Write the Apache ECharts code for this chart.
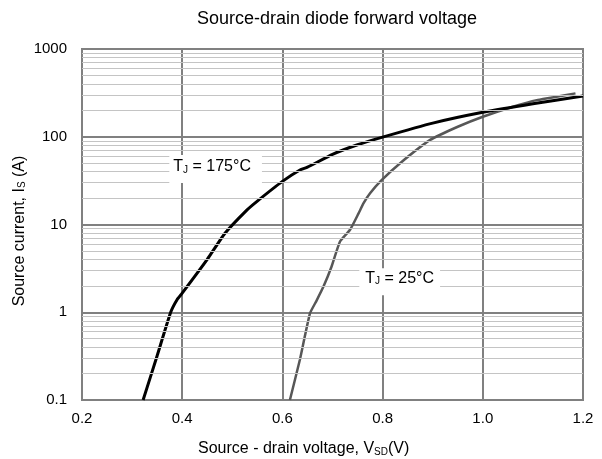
<!DOCTYPE html>
<html>
<head>
<meta charset="utf-8">
<script src="https://cdn.jsdelivr.net/npm/echarts@6/dist/echarts.min.js"></script>
<style>
html,body{margin:0;padding:0;background:#fff;}
#chart{width:602px;height:459px;}
</style>
</head>
<body>
<div id="chart"></div>
<script>
// ---- data ----
const xTicks = [0.2, 0.4, 0.6, 0.8, 1.0, 1.2];
const yTicks = [0.1, 1, 10, 100, 1000];
const minorMultipliers = [2, 3, 4, 5, 6, 7, 8, 9];
const decades = [0.1, 1, 10, 100];

const v175 = [0.322, 0.35, 0.377, 0.39, 0.40, 0.45, 0.485, 0.529, 0.55, 0.60, 0.635, 0.65, 0.70, 0.75, 0.80, 0.90, 1.00, 1.10, 1.20];
const i175 = [0.1, 0.32, 1.0, 1.4, 1.65, 4.0, 7.9, 14.6, 18.5, 31, 41.8, 45, 63, 81, 99, 143, 190, 238, 291];

const v25 = [0.615, 0.635, 0.655, 0.668, 0.682, 0.698, 0.715, 0.735, 0.752, 0.762, 0.775, 0.798, 0.835, 0.895, 0.95, 1.0, 1.06, 1.11, 1.15, 1.185];
const i25 = [0.1, 0.29, 0.97, 1.35, 1.96, 3.3, 6.4, 8.7, 13.4, 17.5, 22.7, 32, 50, 92, 130, 169, 220, 263, 288, 312];

const titleText = 'Source-drain diode forward voltage';
const label175 = '175°C';
const label25 = '25°C';

// ---- build ----
const FONT = '"Liberation Sans", Arial, Helvetica, sans-serif';
const minorValues = [];
decades.forEach(d => minorMultipliers.forEach(m => minorValues.push(+(d * m).toPrecision(3))));

const pair = (xs, ys) => xs.map((x, k) => [x, ys[k]]);

const subRich = {
  t: { fontSize: 16, fontFamily: FONT, color: '#000', lineHeight: 16 },
  s: { fontSize: 10, fontFamily: FONT, color: '#000', lineHeight: 4, verticalAlign: 'bottom' }
};

const chart = echarts.init(document.getElementById('chart'), null, { renderer: 'canvas' });
chart.setOption({
  animation: false,
  backgroundColor: '#fff',
  grid: { left: 82, right: 19, top: 49, bottom: 59, show: true, borderColor: '#808080', borderWidth: 2 },
  xAxis: {
    type: 'value', min: xTicks[0], max: xTicks[xTicks.length - 1], interval: 0.2,
    axisLine: { show: true, lineStyle: { color: '#808080', width: 2 } },
    axisTick: { show: false },
    splitLine: { show: true, lineStyle: { color: '#808080', width: 2 } },
    axisLabel: { fontSize: 15, fontFamily: FONT, color: '#000', margin: 11,
      formatter: v => (+v).toFixed(1) }
  },
  yAxis: {
    type: 'log', logBase: 10, min: yTicks[0], max: yTicks[yTicks.length - 1],
    axisLine: { show: true, lineStyle: { color: '#808080', width: 2 } },
    axisTick: { show: false },
    splitLine: { show: true, lineStyle: { color: '#808080', width: 2 } },
    axisLabel: { fontSize: 15, fontFamily: FONT, color: '#000', margin: 15,
      formatter: v => String(+(+v).toPrecision(3)) }
  },
  series: [
    {
      type: 'line', data: [], silent: true, z: 1,
      markLine: {
        silent: true, symbol: ['none', 'none'], animation: false,
        label: { show: false },
        lineStyle: { color: '#c4c4c4', width: 1, type: 'solid' },
        emphasis: { disabled: true },
        data: minorValues.map(v => ({ yAxis: v }))
      }
    },
    {
      name: '25', type: 'line', data: pair(v25, i25), showSymbol: false, smooth: 0.15, z: 3,
      lineStyle: { color: '#575757', width: 2.5 }
    },
    {
      name: '175', type: 'line', data: pair(v175, i175), showSymbol: false, smooth: 0.15, z: 4,
      lineStyle: { color: '#000', width: 3 }
    }
  ],
  graphic: [
    { type: 'text', x: 337, y: 19.5, z: 10,
      style: { text: titleText, fontSize: 18, fontFamily: FONT, fill: '#000', textAlign: 'center', textVerticalAlign: 'middle' } },
    { type: 'text', x: 198, y: 449, z: 10,
      style: { text: '{t|Source - drain voltage, V}{s|SD}{t|(V)}', rich: subRich, textAlign: 'left', textVerticalAlign: 'middle' } },
    { type: 'text', x: 19.5, y: 231, rotation: Math.PI / 2, z: 10,
      style: { text: '{t|Source current, I}{s|S}{t| (A)}', rich: subRich, textAlign: 'center', textVerticalAlign: 'middle' } },
    { type: 'text', x: 169.3, y: 155, z: 10,
      style: { text: '{t|T}{s|J}{t| = ' + label175 + '}', rich: subRich, textAlign: 'left', textVerticalAlign: 'top',
        backgroundColor: '#fff', padding: [4, 11, 8, 4] } },
    { type: 'text', x: 359.3, y: 268.3, z: 10,
      style: { text: '{t|T}{s|J}{t| = ' + label25 + '}', rich: subRich, textAlign: 'left', textVerticalAlign: 'top',
        backgroundColor: '#fff', padding: [2, 6, 9, 6] } }
  ]
});
</script>
</body>
</html>
